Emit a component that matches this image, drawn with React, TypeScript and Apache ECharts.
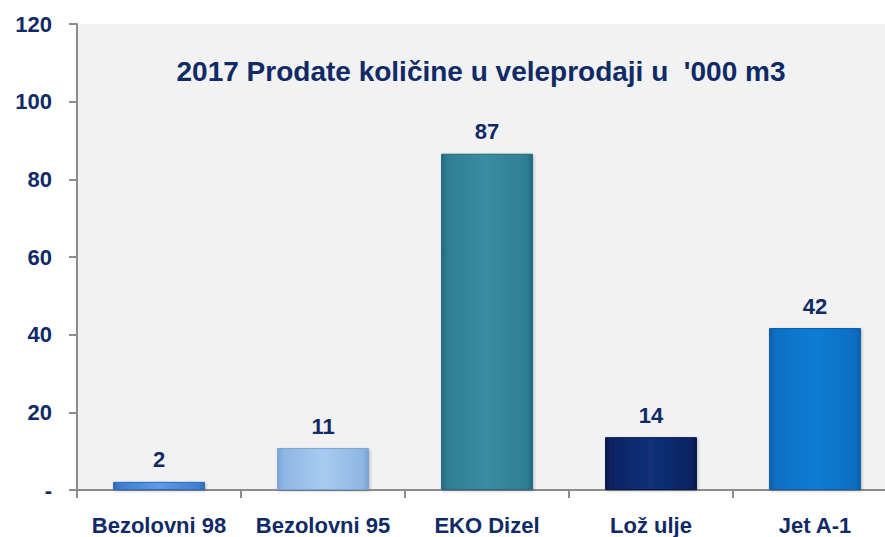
import React, { useEffect, useRef } from "react";
import * as echarts from "echarts";

const categories = ["Bezolovni 98", "Bezolovni 95", "EKO Dizel", "Lož ulje", "Jet A-1"];
const values = [2.1, 10.8, 86.6, 13.6, 41.7];
const barColors = [
  ["#3f7fd0", "#5c9be6", "#2f6bb8"],
  ["#8fb7e4", "#a8cbf0", "#7aa5d6"],
  ["#2e7f96", "#3a8ca3", "#226a80"],
  ["#0a2463", "#12307a", "#061a4d"],
  ["#0a6fc4", "#0f7dd2", "#075fae"],
];
const yTicks = [0, 20, 40, 60, 80, 100, 120];
const title = "2017 Prodate količine u veleprodaji u  '000 m3";

const NAVY = "#0f2a66";
const FONT = "'Liberation Sans', Arial, sans-serif";

export default function App() {
  const ref = useRef<HTMLDivElement>(null);
  useEffect(() => {
    if (!ref.current) return;
    const chart = echarts.init(ref.current, undefined, { renderer: "svg" });
    chart.setOption({
      animation: false,
      backgroundColor: "#ffffff",
      title: {
        text: title,
        left: 476,
        top: 52,
        textAlign: "center",
        textStyle: { color: NAVY, fontSize: 28, fontWeight: "bold", fontFamily: FONT },
      },
      grid: {
        left: 77,
        top: 24,
        right: 0,
        bottom: 47,
        show: true,
        backgroundColor: "#f2f2f2",
        borderWidth: 0,
      },
      xAxis: {
        type: "category",
        data: categories,
        axisLine: { lineStyle: { color: "#8c8c8c", width: 2 } },
        axisTick: { show: true, length: 8, lineStyle: { color: "#8c8c8c", width: 2 } },
        axisLabel: {
          interval: 0,
          color: NAVY,
          fontSize: 22,
          fontWeight: "bold",
          fontFamily: FONT,
          margin: 24,
        },
      },
      yAxis: {
        type: "value",
        min: 0,
        max: 120,
        interval: 20,
        axisLine: { show: true, lineStyle: { color: "#8c8c8c", width: 2 } },
        axisTick: { show: true, length: 8, lineStyle: { color: "#8c8c8c", width: 2 } },
        splitLine: { show: false },
        axisLabel: {
          color: NAVY,
          fontSize: 22,
          fontWeight: "bold",
          fontFamily: FONT,
          margin: 25,
          formatter: (v: number) => (v === 0 ? "-" : yTicks.includes(v) ? String(v) : ""),
        },
      },
      series: [
        {
          type: "bar",
          barCategoryGap: "44%",
          data: values.map((v, i) => ({
            value: v,
            itemStyle: {
              color: new echarts.graphic.LinearGradient(0, 0, 1, 0, [
                { offset: 0, color: barColors[i][2] },
                { offset: 0.07, color: barColors[i][0] },
                { offset: 0.5, color: barColors[i][1] },
                { offset: 0.93, color: barColors[i][0] },
                { offset: 1, color: barColors[i][2] },
              ]),
              borderColor: barColors[i][2],
              borderWidth: 1,
              shadowColor: "rgba(0,0,0,0.25)",
              shadowBlur: 3,
              shadowOffsetX: 1,
              shadowOffsetY: 1,
            },
          })),
          label: {
            show: true,
            position: "top",
            distance: 11,
            color: NAVY,
            fontSize: 22,
            fontWeight: "bold",
            fontFamily: FONT,
            formatter: (p: any) => String(Math.round(p.value)),
          },
        },
      ],
    });
    return () => chart.dispose();
  }, []);
  return (
    <div
      ref={ref}
      style={{ position: "fixed", left: 0, top: 0, width: 897, height: 537 }}
    />
  );
}
